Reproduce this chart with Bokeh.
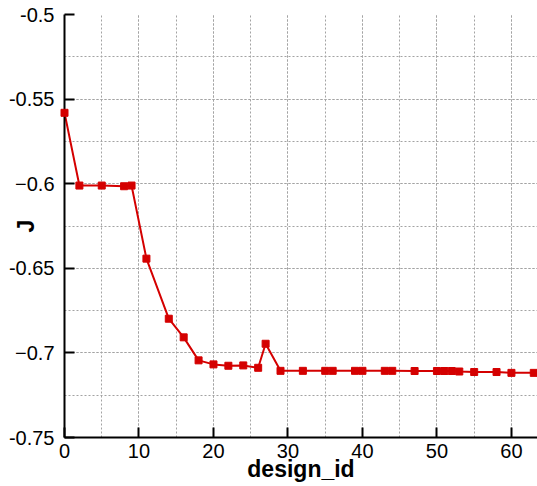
from bokeh.plotting import figure
from bokeh.models import Range1d, SingleIntervalTicker
from bokeh.embed import file_html
from bokeh.resources import INLINE

design_id = [0, 2, 5, 8, 9, 11, 14, 16, 18, 20, 22, 24, 26, 27, 29, 32, 35, 36,
             39, 40, 43, 44, 47, 50, 51, 52, 53, 55, 58, 60, 63]
J = [-0.5581, -0.6011, -0.6011, -0.6015, -0.6011, -0.6443, -0.6798, -0.6908,
     -0.7044, -0.7068, -0.7076, -0.7074, -0.7088, -0.6946, -0.7106, -0.7106,
     -0.7106, -0.7106, -0.7106, -0.7106, -0.7106, -0.7106, -0.7107, -0.7107,
     -0.7107, -0.7107, -0.7110, -0.7113, -0.7113, -0.7118, -0.7118]

y_ticks = [-0.75, -0.7, -0.65, -0.6, -0.55, -0.5]
y_tick_labels = ["-0.75", "-0.7", "-0.65", "-0.6", "-0.55", "-0.5"]
x_ticks = [0, 10, 20, 30, 40, 50, 60]
x_tick_labels = ["0", "10", "20", "30", "40", "50", "60"]

FONT = "Liberation Sans"
RED = "#d40000"
GRID = "#a3a3a3"

p = figure(width=537, height=486, output_backend="svg", toolbar_location=None,
           x_range=Range1d(0, 63.5), y_range=Range1d(-0.75, -0.5),
           min_border_left=64, min_border_right=0, min_border_top=14,
           min_border_bottom=49)
p.outline_line_color = None
p.background_fill_color = "white"
p.border_fill_color = "white"

p.xaxis.ticker = SingleIntervalTicker(interval=10, num_minor_ticks=2)
p.yaxis.ticker = SingleIntervalTicker(interval=0.05, num_minor_ticks=2)
p.xaxis.major_label_overrides = {t: s for t, s in zip(x_ticks, x_tick_labels)}
p.yaxis.major_label_overrides = {t: s for t, s in zip(y_ticks, y_tick_labels)}

for ax in (p.xaxis[0], p.yaxis[0]):
    ax.axis_line_width = 2
    ax.axis_line_color = "black"
    ax.major_tick_in = 10
    ax.major_tick_out = 0
    ax.major_tick_line_width = 2
    ax.minor_tick_line_color = None
    ax.major_label_text_font = FONT
    ax.major_label_text_font_size = "20px"
    ax.major_label_text_color = "black"
    ax.axis_label_text_font = FONT
    ax.axis_label_text_font_style = "bold"
    ax.axis_label_text_font_size = "23px"
    ax.axis_label_text_color = "black"

p.xaxis.axis_label = "design_id"
p.yaxis.axis_label = "J"
p.xaxis.major_label_standoff = 2
p.xaxis.axis_label_standoff = -5
p.yaxis.major_label_standoff = 6
p.yaxis.axis_label_standoff = -33

for g in (p.xgrid[0], p.ygrid[0]):
    g.grid_line_color = GRID
    g.grid_line_dash = "2 2"
    g.grid_line_width = 1
    g.minor_grid_line_color = GRID
    g.minor_grid_line_dash = "2 2"
    g.minor_grid_line_width = 1

p.line(design_id, J, line_color=RED, line_width=2)
p.scatter(design_id, J, marker="square", size=7, fill_color=RED,
          line_color=RED, level="overlay")

open("out.html", "w").write(file_html(p, INLINE))
